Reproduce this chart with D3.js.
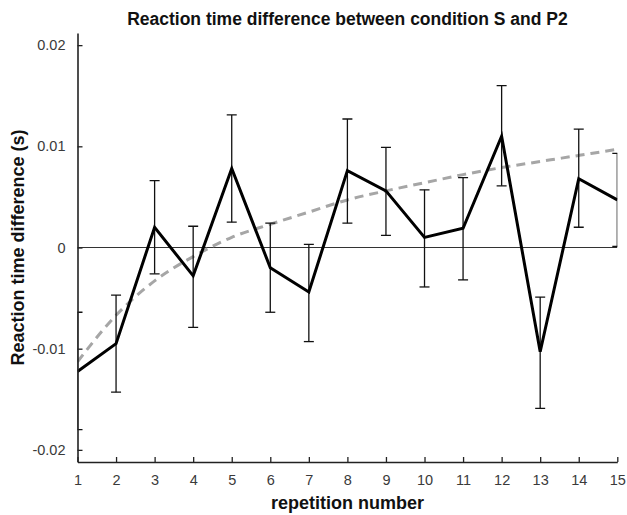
<!DOCTYPE html>
<html>
<head>
<meta charset="utf-8">
<script src="https://cdn.jsdelivr.net/npm/d3@7"></script>
<style>
  body { margin: 0; background: #fff; }
  text { font-family: "Liberation Sans", Arial, sans-serif; }
</style>
</head>
<body>
<div id="chart"></div>
<script>
const repetitions = [1, 2, 3, 4, 5, 6, 7, 8, 9, 10, 11, 12, 13, 14, 15];
const meanDiff = [-0.01225, -0.0095, 0.0020, -0.0028, 0.0078, -0.0020, -0.0044, 0.0076,
  0.0056, 0.0010, 0.0019, 0.0110, -0.0103, 0.0068, 0.0047];
const errUpper = [-0.0064, -0.0047, 0.0066, 0.0021, 0.0131, 0.0024, 0.0003, 0.0127,
  0.0099, 0.0057, 0.0069, 0.0160, -0.0049, 0.0117, 0.0093];
const errLower = [-0.0180, -0.0143, -0.0026, -0.0079, 0.0025, -0.0064, -0.0093, 0.0024,
  0.0012, -0.0039, -0.0032, 0.0061, -0.0159, 0.0020, 0.0001];
const fitCurve = [-0.0113, -0.0067, -0.0033, -0.0009, 0.0010, 0.0023, 0.0035, 0.0047,
  0.0056, 0.0064, 0.0072, 0.0079, 0.0085, 0.0091, 0.0097];
const yTicks = [-0.02, -0.01, 0, 0.01, 0.02];

const W = 627, H = 515;
const margin = { top: 33, right: 10, bottom: 53, left: 77.5 };
const width = 617.3 - margin.left, height = 462 - margin.top;

const svg = d3.select("#chart").append("svg").attr("width", W).attr("height", H);

const x = d3.scaleLinear().domain([1, 15]).range([0, width]);
const y = d3.scaleLinear().domain([-0.0212, 0.0212]).range([height, 0]);

const g = svg.append("g").attr("transform", `translate(${margin.left},${margin.top})`);

g.append("clipPath").attr("id", "plotClip")
  .append("rect").attr("x", 0).attr("y", 0).attr("width", width).attr("height", height);

const plot = g.append("g").attr("clip-path", "url(#plotClip)");

// zero line
plot.append("line")
  .attr("x1", 0).attr("x2", width)
  .attr("y1", y(0)).attr("y2", y(0))
  .attr("stroke", "#333").attr("stroke-width", 1);

// fitted trend (dashed grey)
const fitLine = d3.line()
  .x((d, i) => x(repetitions[i]))
  .y(d => y(d))
  .curve(d3.curveMonotoneX);
plot.append("path")
  .datum(fitCurve)
  .attr("d", fitLine)
  .attr("fill", "none")
  .attr("stroke", "#a6a6a6")
  .attr("stroke-width", 3)
  .attr("stroke-dasharray", "9,6");

// error bars
const cap = 5;
const bars = plot.selectAll("g.err")
  .data(repetitions.map((r, i) => ({ r, hi: errUpper[i], lo: errLower[i] })))
  .join("g").attr("class", "err")
  .attr("stroke", "#111").attr("stroke-width", 1.3);
bars.append("line")
  .attr("x1", d => x(d.r)).attr("x2", d => x(d.r))
  .attr("y1", d => y(d.hi)).attr("y2", d => y(d.lo));
bars.append("line")
  .attr("x1", d => x(d.r) - cap).attr("x2", d => x(d.r) + cap)
  .attr("y1", d => y(d.hi)).attr("y2", d => y(d.hi));
bars.append("line")
  .attr("x1", d => x(d.r) - cap).attr("x2", d => x(d.r) + cap)
  .attr("y1", d => y(d.lo)).attr("y2", d => y(d.lo));

// mean line
const meanLine = d3.line()
  .x((d, i) => x(repetitions[i]))
  .y(d => y(d));
plot.append("path")
  .datum(meanDiff)
  .attr("d", meanLine)
  .attr("fill", "none")
  .attr("stroke", "#000")
  .attr("stroke-width", 3)
  .attr("stroke-linejoin", "miter");

// axes (MATLAB style, ticks inward)
const xAxis = g.append("g")
  .attr("transform", `translate(0,${height})`)
  .call(d3.axisBottom(x).tickValues(repetitions).tickFormat(d3.format("d"))
    .tickSizeInner(-5).tickSizeOuter(0).tickPadding(13));
const yAxis = g.append("g")
  .call(d3.axisLeft(y).tickValues(yTicks)
    .tickFormat(d => d === 0 ? "0" : d3.format(".2f")(d).replace("\u2212", "-"))
    .tickSizeInner(-5).tickSizeOuter(0).tickPadding(12));

[xAxis, yAxis].forEach(a => {
  a.select(".domain").attr("stroke", "#222").attr("stroke-width", 1.6);
  a.selectAll(".tick line").attr("stroke", "#222").attr("stroke-width", 1.3);
  a.selectAll(".tick text")
    .attr("fill", "#3a3a3a")
    .style("font-family", "'Liberation Sans', Arial, sans-serif")
    .style("font-size", "14.5px");
});

// title & labels
svg.append("text")
  .attr("x", margin.left + width / 2).attr("y", 25)
  .attr("text-anchor", "middle")
  .style("font-size", "17.5px").style("font-weight", "bold")
  .attr("fill", "#111")
  .text("Reaction time difference between condition S and P2");

svg.append("text")
  .attr("x", margin.left + width / 2).attr("y", 509)
  .attr("text-anchor", "middle")
  .style("font-size", "18px").style("font-weight", "bold")
  .attr("fill", "#111")
  .text("repetition number");

svg.append("text")
  .attr("transform", `translate(24,${margin.top + y(0)}) rotate(-90)`)
  .attr("text-anchor", "middle")
  .style("font-size", "18px").style("font-weight", "bold")
  .attr("fill", "#111")
  .text("Reaction time difference (s)");
</script>
</body>
</html>
